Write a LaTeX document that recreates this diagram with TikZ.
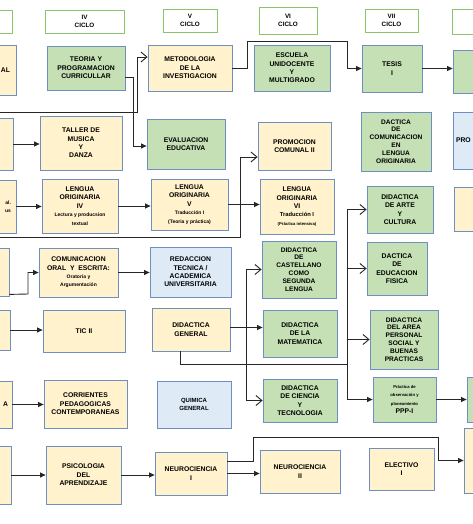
\documentclass[tikz,border=0pt]{standalone}
\usepackage{fontspec}
\setmainfont{Liberation Sans}
\usepackage{tikz}
\usetikzlibrary{positioning}
\usetikzlibrary{calc,arrows.meta}
\definecolor{amarillo}{HTML}{FFF2CC}
\definecolor{verde}{HTML}{C5E0B4}
\definecolor{celeste}{HTML}{DEEBF7}
\definecolor{borde}{HTML}{6E8FC0}
\definecolor{borcic}{HTML}{8CC66B}
\definecolor{linea}{HTML}{262626}
\newcommand{\smalltxt}{\fontsize{5}{6.2}\selectfont}
\newcommand{\tinytxt}{\fontsize{4.2}{5.4}\selectfont}
\tikzset{
  curso/.style = {draw=borde, line width=0.8pt, align=center, inner sep=1pt,
    font=\bfseries\fontsize{6.8}{8.4}\selectfont},
  am/.style = {curso, fill=amarillo},
  ve/.style = {curso, fill=verde},
  ce/.style = {curso, fill=celeste},
  ciclo/.style = {draw=borcic, line width=0.8pt, fill=white, align=center,
    font=\bfseries\fontsize{6.3}{7.6}\selectfont},
  wh/.style 2 args = {minimum width=#1pt, minimum height=#2pt},
  lin/.style = {draw=linea, line width=0.9pt},
  sol/.style = {lin, -{Triangle[length=5.5pt,width=5pt]}},
  op/.style = {lin, -{Straight Barb[length=6pt,width=10pt]}},
}
\begin{document}
\begin{tikzpicture}[x=1pt, y=-1pt]
  \useasboundingbox (0,0) rectangle (472,524);
  % ciclos
  \node (c3) [ciclo, wh={64}{23}] at (-20,21.5) {};
  \node (c4) [ciclo, wh={79}{23}] at (84.5,21.5) {IV\\CICLO};
  \node (c5) [ciclo, wh={54}{23}] at (190,20.5) {V\\CICLO};
  \node (c6) [ciclo, wh={58}{27}] at (288,20.5) {VI\\CICLO};
  \node (c7) [ciclo, wh={53}{23}] at (391.5,20.5) {VII\\CICLO};
  \node (c8) [ciclo, wh={60}{25}] at (482,21.5) {};
  % fila 1
  \node (l1) [am, align=right, inner xsep=6pt, text width=64pt, minimum height=50pt] at (-22,70) {AL};
  \node (teoria) [ve, wh={78}{44}] at (86,68) {TEORIA Y\\PROGRAMACION\\CURRICULLAR};
  \node (metodo) [am, wh={84}{46}] at (190,68) {METODOLOGIA\\DE LA\\INVESTIGACION};
  \node (escuela) [ve, wh={76}{46}] at (292,68) {ESCUELA\\UNIDOCENTE\\Y\\MULTIGRADO};
  \node (tesis) [ve, wh={60}{47}] at (392,68.5) {TESIS\\I};
  \node (r1) [ve, wh={60}{43}] at (483,71.5) {};
  % fila 2
  \node (l2) [am, wh={73}{52}] at (-23.5,144) {};
  \node (taller) [am, wh={82}{54}] at (81,143) {TALLER DE\\MUSICA\\Y\\DANZA};
  \node (evalua) [ve, wh={78}{50}] at (186,144) {EVALUACION\\EDUCATIVA};
  \node (promo) [am, wh={73}{48}] at (294.5,146) {PROMOCION\\COMUNAL II};
  \node (dacom) [ve, wh={70}{59}, font=\bfseries\fontsize{6.6}{7.9}\selectfont] at (396,141.5)
    {DACTICA\\DE\\COMUNICACION\\EN\\LENGUA\\ORIGINARIA};
  \node (r2) [ce, align=left, inner xsep=3pt, text width=54pt, minimum height=57pt] at (483,140.5) {PRO};
  % fila 3
  \node (l3) [am, align=right, inner xsep=5pt, text width=66pt, minimum height=53pt] at (-22,206.5)
    {\smalltxt al.\\\smalltxt us};
  \node (lengiv) [am, wh={76}{54}] at (80,206) {LENGUA\\ORIGINARIA\\IV\\\smalltxt Lectura y producsion\\\smalltxt textual};
  \node (lengv) [am, wh={77}{51}] at (189.5,204.5) {LENGUA\\ORIGINARIA\\V\\\smalltxt Traducción I\\\smalltxt (Teoria y práctica)};
  \node (lengvi) [am, wh={74}{55}] at (297,206.5) {LENGUA\\ORIGINARIA\\VI\\\fontsize{5.8}{7}\selectfont Traducción I\\\tinytxt (Práctica intensiva)};
  \node (arte) [ve, wh={66}{47}] at (400,209.5) {DIDACTICA\\DE ARTE\\Y\\CULTURA};
  \node (r3) [am, wh={60}{44}] at (484,209) {};
  % fila 4
  \node (l4) [am, wh={69}{48}] at (-25.5,272) {};
  \node (comunic) [am, wh={79}{49}] at (78.5,272.5) {COMUNICACION\\ORAL \ Y \ ESCRITA:\\\smalltxt Oratoria y\\\smalltxt Argumentación};
  \node (redac) [ce, wh={81}{50}] at (190.5,272) {REDACCION\\TECNICA /\\ACADEMICA\\UNIVERSITARIA};
  \node (castell) [ve, wh={74}{57}, font=\bfseries\fontsize{6.6}{7.9}\selectfont] at (299,269.5)
    {DIDACTICA\\DE\\CASTELLANO\\COMO\\SEGUNDA\\LENGUA};
  \node (edfis) [ve, wh={60}{53}] at (397,268.5) {DACTICA\\DE\\EDUCACION\\FISICA};
  % fila 5
  \node (l5) [am, wh={70}{40}] at (-25,330) {};
  \node (tic) [am, wh={82}{42}] at (84,331) {TIC II};
  \node (didgen) [am, wh={78}{43}] at (191,329.5) {DIDACTICA\\GENERAL};
  \node (matem) [ve, wh={74}{47}] at (300,333.5) {DIDACTICA\\DE LA\\MATEMATICA};
  \node (perso) [ve, wh={68}{59}, font=\bfseries\fontsize{6.6}{7.9}\selectfont] at (404,339.5)
    {DIDACTICA\\DEL AREA\\PERSONAL\\SOCIAL Y\\BUENAS\\PRACTICAS};
  % fila 6
  \node (l6) [am, align=right, inner xsep=4pt, text width=64pt, minimum height=47pt] at (-24,404.5) {A};
  \node (corri) [am, wh={83}{48}] at (85.5,404) {CORRIENTES\\PEDAGOGICAS\\CONTEMPORANEAS};
  \node (quim) [ce, wh={74}{47}, font=\bfseries\fontsize{6}{7.8}\selectfont] at (194,404.5) {QUIMICA\\GENERAL};
  \node (ciencia) [ve, wh={74}{43}] at (300,400.5) {DIDACTICA\\DE CIENCIA\\Y\\TECNOLOGIA};
  \node (ppp) [ve, wh={63}{45}] at (404.5,399.5) {\tinytxt Práctica de\\\tinytxt observación y\\\tinytxt planeamiento\\PPP-I};
  \node (r6) [ve, wh={60}{45}] at (497,399.5) {};
  % fila 7
  \node (l7) [am, wh={71}{58}] at (-24.5,475) {};
  \node (psico) [am, wh={75}{58}] at (83.5,475) {PSICOLOGIA\\DEL\\APRENDIZAJE};
  \node (neuro1) [am, wh={72}{43}] at (191,473.5) {NEUROCIENCIA\\I};
  \node (neuro2) [am, wh={80}{43}] at (300,471.5) {NEUROCIENCIA\\II};
  \node (electivo) [am, wh={65}{42}] at (401.5,469) {ELECTIVO\\I};
  \node (r7) [am, wh={60}{65}] at (494,460.5) {};
  % conectores
  \coordinate (s1) at (0,112);
  \coordinate (s2) at (0,237);
  \coordinate (b1) at (347,364);
  \coordinate (b2) at (246,364);
  \draw[op] (s1) -- (137,112) |- ([yshift=11pt]metodo.west);
  \draw[sol] ([yshift=-9pt]teoria.east) -- (133,77) |- ([yshift=-2pt]evalua.west);
  \draw[sol] (metodo.east) -- (247,68) |- (347,41) |- (tesis.west);
  \draw[sol] (tesis.east) -- (tesis.east -| r1.west);
  \draw[sol] (l2.east) -- (l2.east -| taller.west);
  \draw[op] (s2) -- (240,237) |- ([yshift=-11pt]promo.west);
  \draw[sol] (l3.east) -- (l3.east -| lengiv.west);
  \draw[sol] (lengiv.east) -- (lengiv.east -| lengv.west);
  \draw[sol] (lengv.east) -- (lengv.east -| lengvi.west);
  \draw[sol] ([yshift=2pt]l4.south east) -- (28,294) |- (comunic.west);
  \draw[sol] (comunic.east) -- (comunic.east -| redac.west);
  \draw[sol] (l5.east) -- (l5.east -| tic.west);
  \draw[sol] ([yshift=2pt]didgen.east) -- ([yshift=2pt]didgen.east -| matem.west);
  \draw[lin] ([xshift=-11pt]didgen.south) |- (b1);
  \draw[lin] (b2 |- castell.west) -- (b2 |- ciencia.west);
  \draw[op] (b2 |- castell.west) -- (castell.west);
  \draw[op] (b2 |- ciencia.west) -- (ciencia.west);
  \draw[lin] (b1 |- arte.west) -- (b1 |- ppp.west);
  \draw[op] (b1 |- arte.west) -- (arte.west);
  \draw[op] (b1 |- edfis.west) -- (edfis.west);
  \draw[op] (b1 |- perso.west) -- (perso.west);
  \draw[sol] (b1 |- ppp.west) -- (ppp.west);
  \draw[sol] (ppp.east) -- (ppp.east -| r6.west);
  \draw[sol] (l6.east) -- (l6.east -| corri.west);
  \draw[sol] (l7.east) -- (l7.east -| psico.west);
  \draw[sol] (psico.east) -- (psico.east -| neuro1.west);
  \draw[sol] (neuro1.east) -- (neuro1.east -| neuro2.west);
  \draw[sol] ([yshift=12pt]neuro1.east) -- (253,461.5) |- (438,437) |- (r7.west);
\end{tikzpicture}
\end{document}
